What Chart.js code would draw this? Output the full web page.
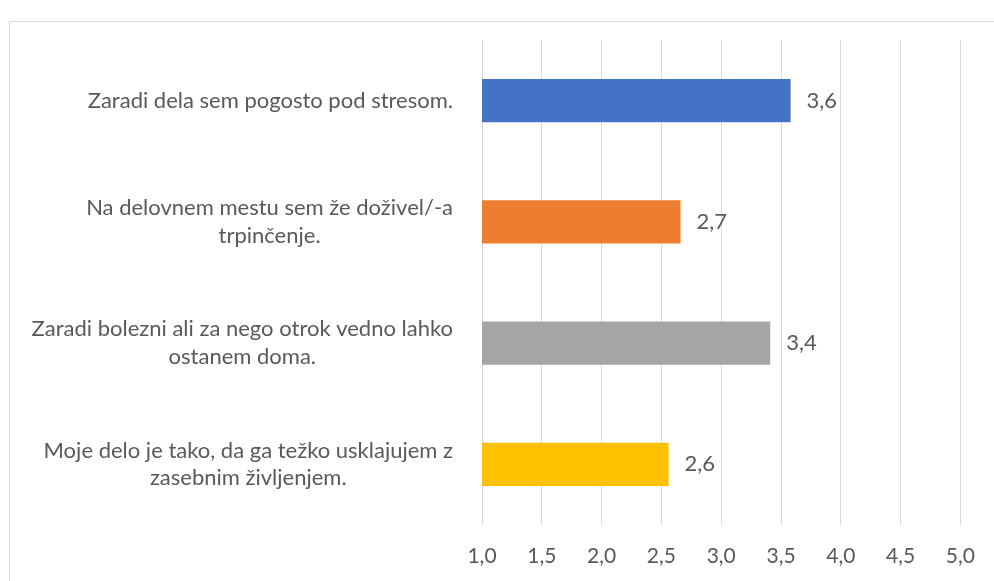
<!DOCTYPE html>
<html>
<head>
<meta charset="utf-8">
<script src="https://cdn.jsdelivr.net/npm/chart.js@4"></script>
<style>
  html, body { margin: 0; padding: 0; background: #fff; overflow: hidden; }
  #wrap { position: relative; width: 994px; height: 581px; }
  #frame { position: absolute; left: 9px; top: 21px; width: 1000px; height: 600px; border: 1px solid #d9d9d9; }
  canvas { position: absolute; left: 0; top: 0; }
</style>
</head>
<body>
<div id="wrap">
  <div id="frame"></div>
  <canvas id="chart" width="994" height="581"></canvas>
</div>
<script>
const categories = [
  ['Zaradi dela sem pogosto pod stresom.'],
  ['Na delovnem mestu sem že doživel/-a', 'trpinčenje.'],
  ['Zaradi bolezni ali za nego otrok vedno lahko', 'ostanem doma.'],
  ['Moje delo je tako, da ga težko usklajujem z', 'zasebnim življenjem.']
]
const values = [3.58, 2.66, 3.41, 2.56]
const barColors = ['#4472C4', '#ED7D31', '#A5A5A5', '#FFC000']
const xMin = 1
const xMax = 5
const xStep = 0.5

const FONT = 'Lato, "Open Sans", sans-serif'
const TEXT = '#595959'
const fmt = v => v.toFixed(1).replace('.', ',')

// category labels: each block right aligned, lines centred inside it
const catLabels = {
  id: 'catLabels',
  afterDraw(chart) {
    const ctx = chart.ctx
    const y = chart.scales.y
    const right = chart.chartArea.left - 29
    const lh = 27.5
    ctx.save()
    ctx.font = '22px ' + FONT
    ctx.fillStyle = TEXT
    ctx.textAlign = 'center'
    ctx.textBaseline = 'middle'
    categories.forEach((lines, i) => {
      const cy = y.getPixelForTick(i)
      const w = Math.max(...lines.map(l => ctx.measureText(l).width))
      const cx = right - w / 2
      lines.forEach((l, k) => {
        ctx.fillText(l, cx, cy - (lines.length - 1) * lh / 2 + k * lh)
      })
    })
    ctx.restore()
  }
}

// value labels next to the bars
const valueLabels = {
  id: 'valueLabels',
  afterDatasetsDraw(chart) {
    const ctx = chart.ctx
    const meta = chart.getDatasetMeta(0)
    ctx.save()
    ctx.font = '22px ' + FONT
    ctx.fillStyle = TEXT
    ctx.textAlign = 'left'
    ctx.textBaseline = 'middle'
    meta.data.forEach((bar, i) => {
      ctx.fillText(fmt(values[i]), bar.x + 16, bar.y)
    })
    ctx.restore()
  }
}

new Chart(document.getElementById('chart'), {
  type: 'bar',
  data: {
    labels: categories,
    datasets: [{
      data: values,
      backgroundColor: barColors,
      barPercentage: 0.355,
      categoryPercentage: 1
    }]
  },
  options: {
    indexAxis: 'y',
    responsive: false,
    animation: false,
    layout: { padding: { top: 40, right: 33, bottom: 0, left: 0 } },
    plugins: { legend: { display: false }, tooltip: { enabled: false } },
    scales: {
      x: {
        min: xMin,
        max: xMax,
        ticks: {
          stepSize: xStep,
          callback: v => fmt(v),
          color: TEXT,
          font: { family: FONT, size: 21 },
          padding: 19
        },
        grid: { color: '#d9d9d9', drawTicks: false },
        border: { display: false },
        afterFit(s) { s.height = 56 }
      },
      y: {
        ticks: { display: false },
        grid: { display: false },
        border: { display: false },
        afterFit(s) { s.width = 482 }
      }
    }
  },
  plugins: [catLabels, valueLabels]
})
</script>
</body>
</html>
